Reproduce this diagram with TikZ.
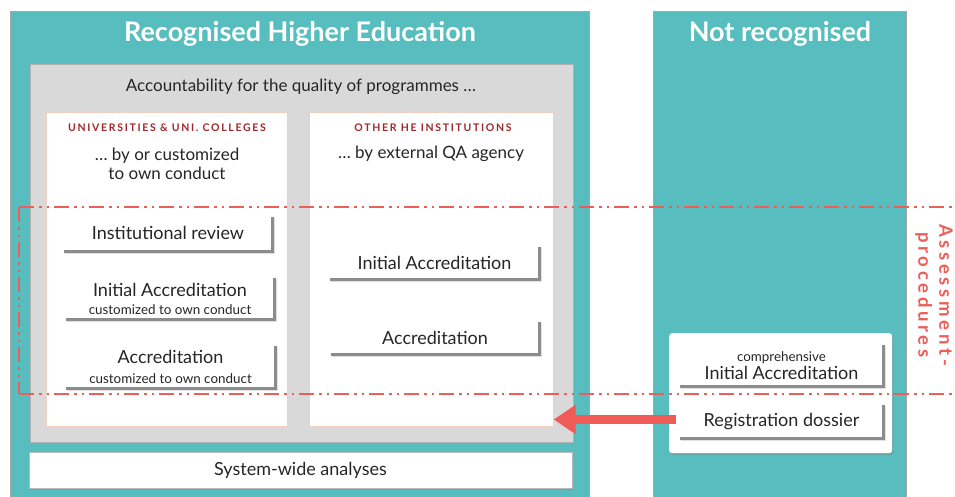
\documentclass[tikz,border=0pt]{standalone}
\usepackage{fontspec}
\setmainfont{Lato}
\usetikzlibrary{shadows,arrows.meta,calc}
\definecolor{tealc}{HTML}{58BDBE}
\definecolor{grayc}{HTML}{D9D9D9}
\definecolor{redc}{HTML}{EC5F58}
\definecolor{arrowc}{HTML}{F05A57}
\definecolor{capred}{HTML}{A0282C}
\definecolor{edgec}{HTML}{8C8C8C}
\definecolor{peach}{HTML}{EFCFBF}
\newcommand{\subtxt}[1]{{\fontsize{13.4}{15}\selectfont #1}}
\begin{document}
\begin{tikzpicture}[x=1pt,y=-1pt,
  panel/.style={draw=gray!70, fill=tealc, line width=0.6pt},
  graybox/.style={draw=gray!60, fill=grayc, line width=0.5pt},
  colbox/.style={draw=peach, fill=white, line width=0.7pt},
  header/.style={text=white, font=\bfseries\fontsize{27}{30}\selectfont},
  caplabel/.style={text=capred, font=\bfseries\fontsize{10.5}{12}\selectfont\addfontfeature{LetterSpace=16}},
  plain/.style={text=black!85, align=center, font=\fontsize{17}{19}\selectfont},
  item/.style={inner sep=0pt, align=center, text=black!85, font=\fontsize{18}{19}\selectfont},
  itemedge/.style={draw=edgec, line width=2.6pt},
  edgeshadow/.style={draw=black, opacity=0.12, line width=2.6pt},
  assess/.style={draw=redc, line width=2.4pt, dash pattern=on 15pt off 5pt on 2.5pt off 5pt on 2.5pt off 5pt},
]
\useasboundingbox (0,0) rectangle (955,496);
\clip (0,0) rectangle (955,496);
\fill[white] (0,0) rectangle (955,496);

% panels
\node[panel, minimum width=579pt, minimum height=500pt, inner sep=0, anchor=north west] (left) at (10,11) {};
\node[panel, minimum width=253pt, minimum height=500pt, inner sep=0, anchor=north west] (right) at (653,11) {};
\node[header] (h1) at (300,34) {Recognised Higher Education};
\node[header] (h2) at (780,34) {Not recognised};

% gray box
\node[graybox, minimum width=543pt, minimum height=378pt, inner sep=0, anchor=north west] (gray) at (30,64) {};
\node[plain] (acc) at (301,87) {Accountability for the quality of programmes \dots};

% column boxes
\node[colbox, minimum width=241pt, minimum height=314pt, inner sep=0, anchor=north west] (colA) at (46,112) {};
\node[colbox, minimum width=244pt, minimum height=314pt, inner sep=0, anchor=north west] (colB) at (309,112) {};
\node[caplabel] (capA) at (167,128) {UNIVERSITIES \& UNI. COLLEGES};
\node[caplabel] (capB) at (433,128) {OTHER HE INSTITUTIONS};
\node[plain] (subA) at (167,163.5) {\dots\ by or customized\\to own conduct};
\node[plain] (subB) at (431,154) {\dots\ by external QA agency};

% items left
\node[item, minimum width=208pt, minimum height=34pt] (ir) at (168,234) {\raisebox{2pt}{Institutional review}};
\node[item, minimum width=208pt, minimum height=41pt] (iaA) at (170,298.5) {Initial Accreditation\\[-1pt]\subtxt{customized to own conduct}};
\node[item, minimum width=209pt, minimum height=42pt] (acA) at (170.5,367) {Accreditation\\[1pt]\subtxt{customized to own conduct}};
% items right
\node[item, minimum width=209pt, minimum height=32pt] (iaB) at (434.5,263) {\raisebox{1pt}{Initial Accreditation}};
\node[item, minimum width=208pt, minimum height=32pt] (acB) at (435,338) {\raisebox{1pt}{Accreditation}};

% card
\node[fill=white, rounded corners=3pt, drop shadow={opacity=0.35, shadow xshift=1.5pt, shadow yshift=-2pt}, minimum width=223pt, minimum height=120pt, inner sep=0, anchor=north west] (card) at (669,333) {};
\node[item, minimum width=203pt, minimum height=41pt] (comp) at (781.5,365.5) {\subtxt{comprehensive}\\[-1pt]Initial Accreditation};
\node[item, minimum width=203pt, minimum height=33pt] (reg) at (781.5,421.5) {\raisebox{1pt}{Registration dossier}};

% system-wide
\node[item, fill=white, draw=edgec!60, line width=0.4pt, drop shadow={opacity=0.4, shadow xshift=1.2pt, shadow yshift=-1.5pt}, minimum width=543pt, minimum height=36pt] (sys) at (300.5,470) {System-wide analyses};

% item edges
\foreach \n in {ir,iaA,acA,iaB,acB,comp,reg}{
  \draw[edgeshadow] ([shift={(1.5,1.5)}]\n.south west) -| ([shift={(1.5,1.5)}]\n.north east);
  \draw[itemedge] (\n.south west) -| (\n.north east);
}

% arrow
\coordinate (as) at ($(card.west |- reg.west)+(7,-2)$);
\draw[arrowc, line width=9.5pt, -{Triangle[length=22pt,width=28pt]}] (as) -- (as -| colB.east);

% assessment frame
\draw[assess] (19,207) -- (970,207);
\draw[assess] (19,394) -- (970,394);
\draw[assess] (19,207) -- (19,394);
\node[rotate=-90, text=redc, align=center, font=\bfseries\fontsize{18.5}{21}\selectfont\addfontfeature{LetterSpace=20}] (ap) at (934,295) {Assessment-\\procedures};
\end{tikzpicture}
\end{document}
